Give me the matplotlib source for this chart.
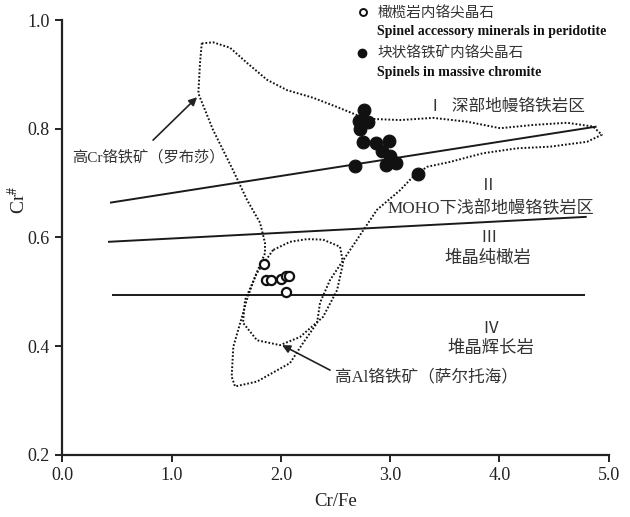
import matplotlib
matplotlib.use("Agg")
import matplotlib.pyplot as plt

plt.rcParams['font.family'] = ['Liberation Serif', 'Noto Sans CJK SC', 'DejaVu Sans']
plt.rcParams['mathtext.fontset'] = 'stix'

# --- data ---
# Spinel accessory minerals in peridotite (open circles)
perid_crfe = [1.845, 1.859, 1.909, 2.005, 2.042, 2.077, 2.051]
perid_cr = [0.552, 0.521, 0.521, 0.524, 0.529, 0.529, 0.499]

# Spinels in massive chromite (filled circles)
chrom_crfe = [2.764, 2.712, 2.795, 2.727, 2.752, 2.874, 2.990, 2.929, 3.002, 2.965, 3.057, 2.681, 3.258]
chrom_cr = [0.834, 0.815, 0.812, 0.800, 0.776, 0.773, 0.777, 0.759, 0.749, 0.734, 0.737, 0.731, 0.716]

# Field boundary lines
line1_x = [0.435, 4.89]
line1_y = [0.664, 0.804]
line2_x = [0.417, 4.80]
line2_y = [0.592, 0.638]
line3_x = [0.453, 4.785]
line3_y = [0.494, 0.494]

# High-Cr chromite field (Luobusa)
hicr_x = [1.275, 1.378, 1.534, 1.690, 1.873, 2.056, 2.294, 2.514, 2.697, 2.843, 3.091, 3.393,
          3.704, 4.007, 4.309, 4.620, 4.858, 4.938, 4.803, 4.464, 4.162, 3.851, 3.549, 3.338,
          3.210, 3.091, 2.880, 2.633, 2.450, 2.358, 2.331, 2.203, 2.083, 1.781, 1.580, 1.549,
          1.564, 1.626, 1.687, 1.763, 1.854, 1.854, 1.809, 1.690, 1.561, 1.378, 1.244, 1.259, 1.275]
hicr_y = [0.957, 0.959, 0.949, 0.921, 0.890, 0.871, 0.857, 0.840, 0.825, 0.818, 0.816, 0.820,
          0.813, 0.801, 0.807, 0.811, 0.804, 0.789, 0.776, 0.767, 0.764, 0.755, 0.739, 0.730,
          0.712, 0.687, 0.651, 0.577, 0.522, 0.480, 0.443, 0.406, 0.369, 0.335, 0.326, 0.344,
          0.399, 0.442, 0.485, 0.528, 0.571, 0.590, 0.627, 0.669, 0.724, 0.798, 0.865, 0.921, 0.957]

# High-Al chromite field (Sartohay)
hial_x = [1.928, 1.781, 1.671, 1.653, 1.781, 1.992, 2.175, 2.386, 2.514, 2.569, 2.541, 2.386, 2.239, 2.083, 1.928]
hial_y = [0.577, 0.535, 0.485, 0.443, 0.411, 0.402, 0.417, 0.454, 0.503, 0.553, 0.583, 0.596, 0.597, 0.592, 0.577]

xticks = [0.0, 1.0, 2.0, 3.0, 4.0, 5.0]
yticks = [0.2, 0.4, 0.6, 0.8, 1.0]

fig = plt.figure(figsize=(6.3, 5.17), dpi=100)
ax = fig.add_axes([0.0992, 0.120, 0.8668, 0.8413])
ax.set_xlim(0, 5)
ax.set_ylim(0.2, 1.0)

for s in ['top', 'right']:
    ax.spines[s].set_visible(False)
for s in ['left', 'bottom']:
    ax.spines[s].set_linewidth(1.6)
    ax.spines[s].set_color('#222222')

ax.set_xticks(xticks)
ax.set_yticks(yticks)
ax.set_xticklabels([f"{v:.1f}" for v in xticks])
ax.set_yticklabels([f"{v:.1f}" for v in yticks])
ax.tick_params(direction='out', length=5, width=1.4, labelsize=13, colors='#222222', pad=4)
ax.set_xlabel('Cr/Fe', fontsize=13.5, color='#222222', labelpad=6)
ax.set_ylabel(r'Cr$^{\#}$', fontsize=14, color='#222222')
ax.yaxis.set_label_coords(-0.062, 0.586)

# lines
lk = dict(color='#1a1a1a', lw=1.4, solid_capstyle='butt')
ax.plot(line1_x, line1_y, **lk)
ax.plot(line2_x, line2_y, **lk)
ax.plot(line3_x, line3_y, **lk)

# fields
dk = dict(color='#111111', lw=1.4, linestyle=(0, (0.9, 1.0)))
ax.plot(hicr_x, hicr_y, **dk)
ax.plot(hial_x, hial_y, **dk)

# data points
ax.plot(chrom_crfe, chrom_cr, 'o', ms=9.2, mfc='#111111', mec='#111111', mew=0.8, ls='none', zorder=5)
ax.plot(perid_crfe, perid_cr, 'o', ms=6.6, mfc='white', mec='#111111', mew=1.6, ls='none', zorder=5)

# legend
ax.plot([2.752], [1.015], 'o', ms=5, mfc='white', mec='#111111', mew=1.4, clip_on=False)
ax.text(2.88, 1.013, '橄榄岩内铬尖晶石', fontsize=10.5, color='#333333', va='center', ha='left')
ax.text(2.88, 0.978, 'Spinel accessory minerals in peridotite', fontsize=10, fontweight='bold',
        color='#111111', va='center', ha='left')
ax.plot([2.743], [0.939], 'o', ms=6, mfc='#111111', mec='#111111', clip_on=False)
ax.text(2.88, 0.937, '块状铬铁矿内铬尖晶石', fontsize=10.5, color='#333333', va='center', ha='left')
ax.text(2.88, 0.904, 'Spinels in massive chromite', fontsize=10, fontweight='bold',
        color='#111111', va='center', ha='left')

# region labels
tc = '#333333'
ax.text(3.34, 0.840, 'Ⅰ  深部地幔铬铁岩区', fontsize=12, color=tc, va='center', ha='left')
ax.text(3.90, 0.695, 'Ⅱ', fontsize=12, color=tc, va='center', ha='center')
ax.text(3.92, 0.652, 'MOHO下浅部地幔铬铁岩区', fontsize=12.3, color=tc, va='center', ha='center')
ax.text(3.90, 0.599, 'Ⅲ', fontsize=12, color=tc, va='center', ha='center')
ax.text(3.89, 0.560, '堆晶纯橄岩', fontsize=12.5, color=tc, va='center', ha='center')
ax.text(3.92, 0.432, 'Ⅳ', fontsize=12, color=tc, va='center', ha='center')
ax.text(3.92, 0.395, '堆晶辉长岩', fontsize=12.5, color=tc, va='center', ha='center')

ax.text(0.087, 0.748, '高Cr铬铁矿（罗布莎）', fontsize=11, color=tc, va='center', ha='left')
ax.annotate('', xy=(1.232, 0.858), xytext=(0.829, 0.779),
            arrowprops=dict(arrowstyle='-|>', color='#222222', lw=1.2, mutation_scale=12,
                            shrinkA=0, shrinkB=0))
ax.text(2.495, 0.342, '高Al铬铁矿（萨尔托海）', fontsize=12, color=tc, va='center', ha='left')
ax.annotate('', xy=(2.01, 0.402), xytext=(2.45, 0.356),
            arrowprops=dict(arrowstyle='-|>', color='#222222', lw=1.2, mutation_scale=12,
                            shrinkA=0, shrinkB=0))

fig.savefig('out.png', dpi=100)
